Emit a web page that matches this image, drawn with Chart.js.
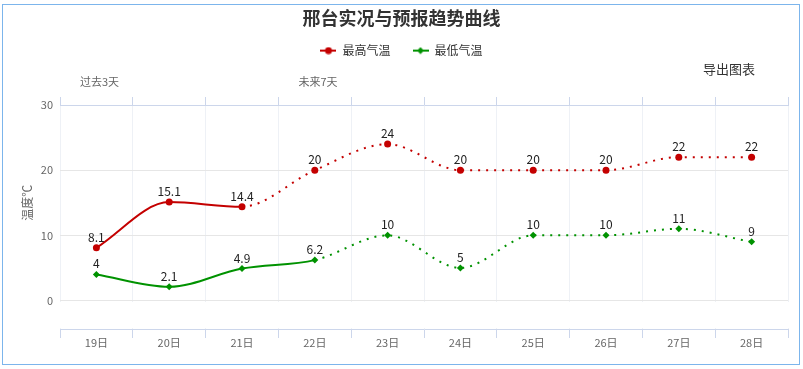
<!DOCTYPE html>
<html>
<head>
<meta charset="utf-8">
<script src="https://cdn.jsdelivr.net/npm/chart.js"></script>
<style>
  body { margin: 0; background: #fff; }
  #wrap { position: relative; width: 803px; height: 369px; }
  #frame { position: absolute; left: 2px; top: 4px; width: 796px; height: 359px; border: 1px solid #7cb5ec; pointer-events: none; }
  #export { position: absolute; left: 703px; top: 61px; font: 13px "Noto Sans CJK SC", sans-serif; line-height: 16px; color: #333; }
</style>
</head>
<body>
<div id="wrap">
  <canvas id="myChart" width="803" height="369"></canvas>
  <div id="frame"></div>
  <div id="export">导出图表</div>
</div>
<script>
// chart data
var days = ["19日", "20日", "21日", "22日", "23日", "24日", "25日", "26日", "27日", "28日"];
var highTemps = [8.1, 15.1, 14.4, 20, 24, 20, 20, 20, 22, 22];
var lowTemps = [4, 2.1, 4.9, 6.2, 10, 5, 10, 10, 11, 9];
var yTicks = [0, 10, 20, 30];
// last observed day of each series, forecast after it is dotted
var lastObservedHigh = 2;
var lastObservedLow = 3;
var periodLabels = ["过去3天", "未来7天"];
var periodStart = [0, 3];

var FONT = '"Noto Sans CJK SC", "Noto Sans", sans-serif';
Chart.defaults.font.family = FONT;

var RED = "#c40000";
var GREEN = "#009200";

function legendMarker(color, round) {
  var c = document.createElement("canvas");
  c.width = 16; c.height = 8;
  var g = c.getContext("2d");
  g.strokeStyle = color; g.lineWidth = 2;
  g.beginPath(); g.moveTo(0, 4); g.lineTo(16, 4); g.stroke();
  g.fillStyle = color;
  g.beginPath();
  if (round) {
    g.arc(8, 4, 3.5, 0, Math.PI * 2);
  } else {
    g.moveTo(8, 0.5); g.lineTo(11.5, 4); g.lineTo(8, 7.5); g.lineTo(4.5, 4); g.closePath();
  }
  g.fill();
  return c;
}
var markers = [legendMarker(RED, true), legendMarker(GREEN, false)];

// hide vertical grid lines between the zero line and the bottom axis
var gapPlugin = {
  id: "gap",
  beforeDatasetsDraw: function (chart) {
    var a = chart.chartArea, y0 = chart.scales.y.getPixelForValue(0);
    var ctx = chart.ctx;
    ctx.save();
    ctx.fillStyle = "#fff";
    ctx.fillRect(a.left - 1, Math.round(y0) + 1, a.right - a.left + 2, Math.round(a.bottom) - Math.round(y0) - 2);
    ctx.restore();
  }
};

var textPlugin = {
  id: "texts",
  afterDatasetsDraw: function (chart) {
    var ctx = chart.ctx;
    ctx.save();
    ctx.font = "12px " + FONT;
    ctx.fillStyle = "#222";
    ctx.textAlign = "center";
    ctx.textBaseline = "alphabetic";
    chart.data.datasets.forEach(function (ds, i) {
      chart.getDatasetMeta(i).data.forEach(function (pt, j) {
        ctx.fillText(String(ds.data[j]), pt.x, pt.y - 6);
      });
    });

    var x = chart.scales.x, y = chart.scales.y;
    var step = x.width / days.length;
    ctx.font = "11px " + FONT;
    ctx.fillStyle = "#666";
    ctx.textAlign = "left";
    ctx.textBaseline = "middle";
    periodLabels.forEach(function (t, i) {
      ctx.fillText(t, x.getPixelForValue(periodStart[i]) - step / 2 + 20, 82);
    });

    var cy = (y.getPixelForValue(30) + y.getPixelForValue(0)) / 2;
    ctx.font = "12px " + FONT;
    ctx.translate(27, cy);
    ctx.rotate(-Math.PI / 2);
    ctx.textAlign = "center";
    ctx.fillText("温度℃", 0, 0);
    ctx.restore();
  }
};

new Chart(document.getElementById("myChart"), {
  type: "line",
  data: {
    labels: days,
    datasets: [
      {
        label: "最高气温",
        data: highTemps,
        borderColor: RED,
        backgroundColor: RED,
        borderWidth: 2,
        pointStyle: "circle",
        pointRadius: 3.5,
        pointBorderWidth: 0,
        cubicInterpolationMode: "monotone",
        segment: { borderDash: function (ctx) { return ctx.p0DataIndex >= lastObservedHigh ? [2, 6] : undefined; } }
      },
      {
        label: "最低气温",
        data: lowTemps,
        borderColor: GREEN,
        backgroundColor: GREEN,
        borderWidth: 2,
        pointStyle: "rectRot",
        pointRadius: 3.5,
        pointBorderWidth: 0,
        cubicInterpolationMode: "monotone",
        segment: { borderDash: function (ctx) { return ctx.p0DataIndex >= lastObservedLow ? [2, 6] : undefined; } }
      }
    ]
  },
  options: {
    responsive: false,
    animation: false,
    devicePixelRatio: 1,
    layout: { padding: { left: 15, right: 15, top: 0, bottom: 0 } },
    plugins: {
      title: {
        display: true,
        text: "邢台实况与预报趋势曲线",
        color: "#333",
        font: { size: 18, weight: "bold" },
        padding: { top: 7, bottom: -6 }
      },
      legend: {
        labels: {
          usePointStyle: true,
          pointStyleWidth: 16,
          boxHeight: 12,
          padding: 22,
          color: "#333",
          font: { size: 12 },
          generateLabels: function (chart) {
            return chart.data.datasets.map(function (ds, i) {
              return { text: ds.label, pointStyle: markers[i], fillStyle: ds.borderColor, strokeStyle: ds.borderColor, lineWidth: 0, hidden: false, datasetIndex: i, fontColor: "#333" };
            });
          }
        }
      },
      tooltip: { enabled: false }
    },
    scales: {
      xTop: {
        type: "category",
        labels: days,
        position: "top",
        offset: true,
        grid: { offset: true, color: "#eef1f6", tickColor: "#ccd6eb", tickLength: 8 },
        border: { color: "#ccd6eb" },
        ticks: { display: false },
        afterFit: function (s) { s.height = 38.4; }
      },
      x: {
        type: "category",
        position: "bottom",
        offset: true,
        grid: { offset: true, drawOnChartArea: false, tickColor: "#ccd6eb", tickLength: 9 },
        border: { color: "#ccd6eb" },
        ticks: { color: "#666", font: { size: 11, lineHeight: 1 }, padding: -1, maxRotation: 0, autoSkip: false },
        afterFit: function (s) { s.height = 40; }
      },
      y: {
        min: -4.37,
        max: 30,
        afterBuildTicks: function (s) { s.ticks = yTicks.map(function (v) { return { value: v }; }); },
        grid: {
          drawTicks: false,
          color: function (ctx) { return ctx.tick && ctx.tick.value === 30 ? "rgba(0,0,0,0)" : "#e6e6e6"; }
        },
        border: { display: false },
        ticks: { color: "#666", font: { size: 11 }, padding: 7 },
        afterFit: function (s) { s.width = 45; }
      }
    }
  },
  plugins: [gapPlugin, textPlugin]
});
</script>
</body>
</html>
